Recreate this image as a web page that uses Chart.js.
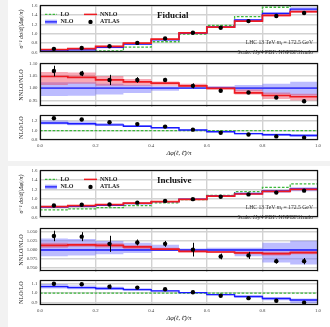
<!DOCTYPE html>
<html><head><meta charset="utf-8">
<script src="https://cdn.jsdelivr.net/npm/chart.js@4.4.1/dist/chart.umd.min.js"></script>
<style>
html,body{margin:0;padding:0;background:#f2f2f2;width:330px;height:327px;overflow:hidden;position:relative;}
.card{position:absolute;left:8px;width:322px;background:#fff;}
canvas{position:absolute;left:0;}
</style></head><body>
<div class="card" style="top:0;height:161px"></div>
<div class="card" style="top:166px;height:161px"></div>
<script>
// ---------- DATA ----------
const binEdges = [0.0,0.1,0.2,0.3,0.4,0.5,0.6,0.7,0.8,0.9,1.0];
const binCenters = [0.05,0.15,0.25,0.35,0.45,0.55,0.65,0.75,0.85,0.95];
const xTickLabels = ["0.0","0.2","0.4","0.6","0.8","1.0"];

// Fiducial
const fidLO    = [0.548,0.577,0.634,0.716,0.830,0.992,1.174,1.360,1.560,1.700];
const fidNLO   = [0.636,0.658,0.711,0.780,0.869,1.011,1.141,1.290,1.430,1.520];
const fidNNLO  = [0.666,0.686,0.734,0.800,0.886,1.020,1.140,1.266,1.388,1.466];
const fidATLAS = [0.680,0.697,0.734,0.806,0.898,1.020,1.128,1.267,1.376,1.440];
const fidATLASrelErr = [0.020,0.010,0.020,0.011,0.008,0.010,0.005,0.005,0.006,0.008];
const fidNNLOoverNLO   = [1.047,1.043,1.033,1.025,1.020,1.009,0.999,0.981,0.970,0.965];
const fidNNLOoverNLOlo = [1.013,1.018,1.009,1.009,1.009,1.004,0.994,0.974,0.956,0.950];
const fidNNLOoverNLOhi = [1.065,1.063,1.049,1.037,1.027,1.018,1.005,0.994,0.982,0.977];
const fidNLObandLo = [0.968,0.969,0.974,0.980,0.989,0.998,0.998,0.989,0.975,0.970];
const fidNLObandHi = [1.024,1.024,1.018,1.013,1.007,1.006,1.007,1.013,1.018,1.026];
const fidATLASoverNLO = [1.069,1.059,1.033,1.033,1.033,1.009,0.989,0.982,0.962,0.947];
const fidNLOoverLO   = [1.160,1.142,1.120,1.090,1.058,1.012,0.973,0.934,0.910,0.895];
const fidNLOoverLOlo = [1.125,1.110,1.095,1.072,1.047,1.005,0.962,0.918,0.888,0.868];
const fidNLOoverLOhi = [1.210,1.190,1.160,1.118,1.075,1.022,0.988,0.955,0.935,0.925];
const fidATLASoverLO = [1.258,1.233,1.175,1.136,1.083,1.019,0.954,0.915,0.876,0.850];

// Inclusive
const incLO    = [0.762,0.786,0.812,0.855,0.912,0.980,1.068,1.150,1.242,1.313];
const incNLO   = [0.824,0.842,0.863,0.898,0.938,0.990,1.060,1.109,1.166,1.209];
const incNNLO  = [0.834,0.854,0.874,0.906,0.940,0.986,1.054,1.100,1.154,1.200];
const incATLAS = [0.856,0.873,0.878,0.917,0.954,0.991,1.041,1.092,1.130,1.171];
const incATLASrelErr = [0.014,0.012,0.022,0.008,0.008,0.019,0.008,0.010,0.007,0.009];
const incNNLOoverNLO   = [1.0127,1.0144,1.0127,1.0089,1.0024,0.9960,0.9945,0.9920,0.9897,0.9928];
const incNNLOoverNLOlo = [1.0065,1.0090,1.0070,1.0030,0.9980,0.9930,0.9920,0.9880,0.9850,0.9880];
const incNNLOoverNLOhi = [1.0200,1.0190,1.0185,1.0130,1.0060,0.9985,0.9970,0.9960,0.9950,0.9970];
const incNLObandLo = [0.9825,0.9850,0.9880,0.9920,0.9970,0.9980,0.9950,0.9830,0.9650,0.9600];
const incNLObandHi = [1.0320,1.0305,1.0250,1.0200,1.0144,1.0040,1.0060,1.0060,1.0200,1.0260];
const incATLASoverNLO = [1.039,1.037,1.017,1.021,1.017,1.001,0.982,0.985,0.969,0.969];
const incNLOoverLO   = [1.071,1.061,1.051,1.039,1.025,1.006,0.984,0.964,0.942,0.925];
const incNLOoverLOlo = [1.050,1.042,1.035,1.026,1.016,1.000,0.975,0.950,0.922,0.890];
const incNLOoverLOhi = [1.100,1.085,1.070,1.053,1.035,1.012,0.992,0.975,0.955,0.942];
const incATLASoverLO = [1.103,1.097,1.071,1.061,1.042,1.010,0.971,0.945,0.916,0.896];

// ---------- STYLE ----------
const FONT = '"Liberation Serif","DejaVu Serif",serif';
const C_LO = '#3cb83c', C_NLO = '#1a1aff', C_NNLO = '#ee1b22';
const B_NLO = 'rgba(95,95,255,0.42)', B_NNLO = 'rgba(235,40,70,0.40)';
const GRID = '#d2d2d2';

function steps(vals){ return binEdges.map((x,i)=>({x, y: vals[Math.min(i, vals.length-1)]})); }
function pts(vals){ return binCenters.map((x,i)=>({x, y: vals[i]})); }
function mul(a,b){ return a.map((v,i)=>v*b[i]); }

function lineDs(vals, color, w, dash, order){
  return {data: steps(vals), borderColor: color, borderWidth: w, borderDash: dash||[], stepped: true,
          pointRadius: 0, fill: false, order, clip: 0};
}
function bandDs(lo, hi, color, loIndex, order){
  return [
    {data: steps(lo), borderWidth: 0, borderColor: 'rgba(0,0,0,0)', stepped: true, pointRadius: 0, fill: false, order, clip: 0},
    {data: steps(hi), borderWidth: 0, borderColor: 'rgba(0,0,0,0)', stepped: true, pointRadius: 0, fill: loIndex, backgroundColor: color, order, clip: 0}
  ];
}
function dataDs(vals, errs){
  return {data: pts(vals), errs, showLine: false, pointRadius: 2.2, pointBackgroundColor: '#000',
          pointBorderWidth: 0, borderColor: '#000', order: 0, clip: 0};
}

const errPlugin = {
  id: 'errbars',
  afterDatasetsDraw(chart){
    const ctx = chart.ctx, ys = chart.scales.y;
    chart.data.datasets.forEach((ds,i)=>{
      if(!ds.errs) return;
      const meta = chart.getDatasetMeta(i);
      ctx.save(); ctx.strokeStyle = '#000'; ctx.lineWidth = 1;
      ds.data.forEach((p,j)=>{
        const x = Math.round(meta.data[j].x)+0.5;
        const e = ds.errs[j]*p.y;
        ctx.beginPath();
        ctx.moveTo(x, ys.getPixelForValue(p.y-e));
        ctx.lineTo(x, ys.getPixelForValue(p.y+e));
        ctx.stroke();
      });
      ctx.restore();
    });
  }
};
const framePlugin = {
  id: 'frame',
  afterDraw(chart){
    const a = chart.chartArea, ctx = chart.ctx;
    ctx.save(); ctx.strokeStyle = '#111'; ctx.lineWidth = 1.2;
    ctx.strokeRect(Math.round(a.left)+0.5, Math.round(a.top)+0.5, Math.round(a.right-a.left)-1, Math.round(a.bottom-a.top)-1);
    ctx.restore();
  }
};

function fnt(size, p){ return `${p&&p.italic?'italic ':''}${p&&p.bold?'bold ':''}${size}px ${FONT}`; }
function drawRich(ctx, parts, x, y, size, align){
  const ws = parts.map(p=>{ ctx.font = fnt(p.sub? size*0.72 : size, p); return ctx.measureText(p.t).width; });
  const total = ws.reduce((a,b)=>a+b,0);
  let cx = align==='right' ? x-total : (align==='center' ? x-total/2 : x);
  ctx.textAlign = 'left'; ctx.textBaseline = 'middle';
  parts.forEach((p,i)=>{ ctx.font = fnt(p.sub? size*0.72 : size, p); ctx.fillText(p.t, cx, y+(p.sub?1.3:0)); cx += ws[i]; });
}

function annotPlugin(title){
  return {
    id: 'annot',
    afterDraw(chart){
      const ctx = chart.ctx, a = chart.chartArea, L = a.left, T = a.top;
      ctx.save();
      // legend
      const y1 = T+9, y2 = T+16.5;
      ctx.lineWidth = 1.3;
      ctx.strokeStyle = C_LO; ctx.setLineDash([2.4,1.4]);
      ctx.beginPath(); ctx.moveTo(L+5, y1); ctx.lineTo(L+17, y1); ctx.stroke();
      ctx.setLineDash([]);
      ctx.fillStyle = 'rgba(150,150,255,0.7)'; ctx.fillRect(L+5, y2-2.2, 12, 4.4);
      ctx.strokeStyle = C_NLO; ctx.beginPath(); ctx.moveTo(L+5, y2); ctx.lineTo(L+17, y2); ctx.stroke();
      ctx.strokeStyle = C_NNLO; ctx.lineWidth = 1.5; ctx.beginPath(); ctx.moveTo(L+44, y1); ctx.lineTo(L+57, y1); ctx.stroke();
      ctx.fillStyle = '#000'; ctx.beginPath(); ctx.arc(L+50.5, y2, 2.2, 0, Math.PI*2); ctx.fill();
      ctx.fillStyle = '#222'; ctx.textBaseline = 'middle'; ctx.textAlign = 'left';
      ctx.font = fnt(6, {bold:true});
      ctx.fillText('LO', L+20.5, y1); ctx.fillText('NLO', L+20.5, y2);
      ctx.fillText('NNLO', L+60, y1); ctx.fillText('ATLAS', L+60, y2);
      // title
      ctx.fillStyle = '#111'; ctx.font = fnt(9, {bold:true});
      ctx.fillText(title, L+117, T+10);
      // info text
      ctx.fillStyle = '#333';
      drawRich(ctx, [{t:'LHC 13 TeV '},{t:'m',italic:true},{t:'t',italic:true,sub:true},{t:' = 172.5 GeV'}], a.right-5, T+37, 5.7, 'right');
      drawRich(ctx, [{t:'Scale: '},{t:'H',italic:true},{t:'T',italic:true,sub:true},{t:'/4 PDF: NNPDF31nnlo'}], a.right-5, T+47, 5.7, 'right');
      ctx.restore();
    }
  };
}

function makePanel(o){
  const cv = document.createElement('canvas');
  cv.width = 330; cv.height = o.height;
  cv.style.top = o.top+'px'; cv.style.width = '330px'; cv.style.height = o.height+'px';
  document.body.appendChild(cv);
  const plugins = [errPlugin, framePlugin];
  if(o.title) plugins.push(annotPlugin(o.title));
  new Chart(cv, {
    type: 'line',
    data: {datasets: o.datasets},
    plugins,
    options: {
      responsive: false, animation: false, devicePixelRatio: 1,
      layout: {padding: {left: 0, right: 12, top: o.padTop, bottom: o.padBottom}},
      plugins: {legend: {display: false}, tooltip: {enabled: false}},
      scales: {
        x: {type: 'linear', min: 0, max: 1,
            ticks: {display: !!o.showX, stepSize: 0.2, padding: 2.5, color: '#444', font: {family: FONT, size: 4.8},
                    callback: (v)=> xTickLabels[Math.round(v/0.2)]},
            grid: {color: GRID, lineWidth: 1.4, drawTicks: false},
            border: {display: false},
            title: {display: !!o.showX, text: 'Δφ(ℓ, ℓ̄)/π', color: '#222', padding: {top:0, bottom: 3},
                    font: {family: FONT, size: 6.4, style: 'italic'}},
            afterFit: (s)=>{ s.height = o.showX ? o.xH : 0; }},
        y: {min: o.yMin, max: o.yMax,
            ticks: {stepSize: o.yStep, includeBounds: false, padding: 2.5, color: '#444',
                    font: {family: FONT, size: 4.8}, callback: (v)=> v.toFixed(o.dec)},
            grid: {color: GRID, lineWidth: 1.4, drawTicks: false},
            border: {display: false},
            title: {display: true, text: o.yTitle, color: '#222', padding: {top: o.yTitlePad, bottom: 0},
                    font: {family: FONT, size: o.yTitleSize, style: o.yTitleItalic ? 'italic':'normal'}},
            afterFit: (s)=>{ s.width = 40; }}
      }
    }
  });
}

function buildCard(off, title, LO, NLO, NNLO, ATLAS, ATLASerr, r1, r1lo, r1hi, nlolo, nlohi, r1data, r2, r2lo, r2hi, r2data, r1rng, r2rng){
  const mainDs = [
    dataDs(ATLAS, ATLASerr),              //0
    lineDs(NNLO, C_NNLO, 1.7, null, 1),    //1
    lineDs(NLO, C_NLO, 1.4, null, 2),      //2
    lineDs(LO, C_LO, 1.3, [2.6,1.6], 3),   //3
    ...bandDs(mul(NLO, r1lo), mul(NLO, r1hi), B_NNLO, 4, 4),   //4,5
    ...bandDs(mul(NLO, nlolo), mul(NLO, nlohi), B_NLO, 6, 5)   //6,7
  ];
  makePanel({top: off, height: 58, padTop: 5, padBottom: 1, yMin: 0.6, yMax: 1.6, yStep: 0.2, dec: 1,
    yTitle: 'σ⁻¹ dσ/d(|Δφ|/π)', yTitleSize: 6, yTitleItalic: true, yTitlePad: 18, datasets: mainDs, title});
  const ones = binCenters.map(()=>1);
  const r1Ds = [
    dataDs(r1data, ATLASerr),
    lineDs(r1, C_NNLO, 1.7, null, 1),
    lineDs(ones, C_NLO, 1.4, null, 2),
    ...bandDs(r1lo, r1hi, B_NNLO, 3, 4),
    ...bandDs(nlolo, nlohi, B_NLO, 5, 5)
  ];
  makePanel({top: off+58, height: 54, padTop: 2, padBottom: 2, yMin: r1rng[0], yMax: r1rng[1], yStep: r1rng[2], dec: r1rng[3],
    yTitle: 'NNLO/NLO', yTitleSize: 6.2, yTitlePad: 18, datasets: r1Ds});
  const r2Ds = [
    dataDs(r2data, ATLASerr),
    lineDs(r2, C_NLO, 1.4, null, 1),
    lineDs(ones, C_LO, 1.3, [2.6,1.6], 2),
    ...bandDs(r2lo, r2hi, B_NLO, 3, 5)
  ];
  makePanel({top: off+110, height: 50, padTop: 2, padBottom: 0, yMin: r2rng[0], yMax: r2rng[1], yStep: r2rng[2], dec: r2rng[3],
    yTitle: 'NLO/LO', yTitleSize: 6.2, yTitlePad: 18, datasets: r2Ds, showX: true, xH: 20});
}

buildCard(0, 'Fiducial', fidLO, fidNLO, fidNNLO, fidATLAS, fidATLASrelErr,
  fidNNLOoverNLO, fidNNLOoverNLOlo, fidNNLOoverNLOhi, fidNLObandLo, fidNLObandHi, fidATLASoverNLO,
  fidNLOoverLO, fidNLOoverLOlo, fidNLOoverLOhi, fidATLASoverLO, [0.925, 1.10, 0.05, 2], [0.8, 1.32, 0.2, 1]);
buildCard(165, 'Inclusive', incLO, incNLO, incNNLO, incATLAS, incATLASrelErr,
  incNNLOoverNLO, incNNLOoverNLOlo, incNNLOoverNLOhi, incNLObandLo, incNLObandHi, incATLASoverNLO,
  incNLOoverLO, incNLOoverLOlo, incNLOoverLOhi, incATLASoverLO, [0.94, 1.06, 0.025, 3], [0.87, 1.14, 0.1, 1]);
</script>
</body></html>
